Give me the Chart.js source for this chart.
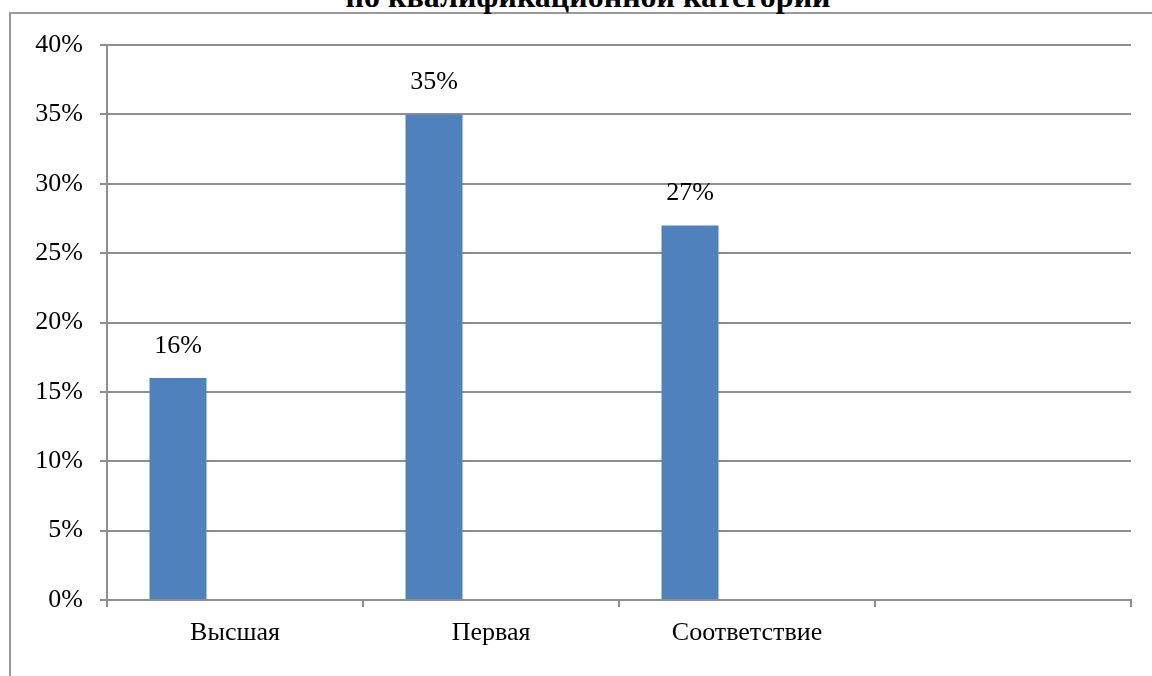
<!DOCTYPE html>
<html>
<head>
<meta charset="utf-8">
<script src="https://cdn.jsdelivr.net/npm/chart.js@4"></script>
<style>
  html, body { margin: 0; padding: 0; background: #fff; overflow: hidden; }
  #wrap { position: relative; width: 1152px; height: 676px; overflow: hidden; }
  #frame { position: absolute; left: 9px; top: 12px; width: 1200px; height: 720px;
           border-left: 2px solid #9a9a9a; border-top: 2px solid #9a9a9a; }
  #title { position: absolute; left: 0; width: 1176px; top: -20px; text-align: center;
           font: bold 32px "Liberation Serif", serif; line-height: 32px; color: #000; }
  #chart { position: absolute; left: 0; top: 0; }
</style>
</head>
<body>
<div id="wrap">
  <div id="frame"></div>
  <div id="title">по квалификационной категории</div>
  <canvas id="chart" width="1152" height="676"></canvas>
</div>
<script>
document.addEventListener("DOMContentLoaded", function () {

    // categories (last slot is empty, as in the original)
    const categories = ["Высшая", "Первая", "Соответствие", ""];
    // share of teachers by category, %
    const shareValues = [16, 35, 27, null];
    // two empty series which only reserve space in each group
    const emptyA = [null, null, null, null];
    const emptyB = [null, null, null, null];
    const yTicks = [0, 5, 10, 15, 20, 25, 30, 35, 40];

    const gray = "#8f8f8f";
    const serif = "'Liberation Serif', 'Times New Roman', serif";

    // value labels over the bars
    const barLabels = {
        id: "barLabels",
        afterDatasetsDraw(chart) {
            const ctx = chart.ctx;
            const meta = chart.getDatasetMeta(0);
            ctx.save();
            ctx.font = "26px " + serif;
            ctx.fillStyle = "#000";
            ctx.textAlign = "center";
            ctx.textBaseline = "alphabetic";
            meta.data.forEach(function (bar, i) {
                const v = shareValues[i];
                if (v == null) return;
                ctx.fillText(v + "%", bar.x, bar.y - 25);
            });
            ctx.restore();
        }
    };

    new Chart(document.getElementById("chart").getContext("2d"), {
        type: "bar",
        data: {
            labels: categories,
            datasets: [
                { label: "Доля", data: shareValues, backgroundColor: "#4f81bd" },
                { label: "", data: emptyA, backgroundColor: "#c0504d" },
                { label: "", data: emptyB, backgroundColor: "#9bbb59" }
            ]
        },
        options: {
            responsive: false,
            animation: false,
            devicePixelRatio: 1,
            layout: { padding: { top: 45, right: 21, bottom: 0, left: 0 } },
            datasets: { bar: { categoryPercentage: 0.668, barPercentage: 1.0 } },
            plugins: {
                legend: { display: false },
                tooltip: { enabled: false }
            },
            scales: {
                x: {
                    offset: true,
                    grid: { offset: true, drawOnChartArea: false, drawTicks: true, tickLength: 7, color: gray, lineWidth: 2 },
                    border: { display: true, color: gray, width: 2 },
                    ticks: { color: "#000", font: { family: serif, size: 26 }, padding: 11, maxRotation: 0 },
                    afterFit: function (s) { s.height = 76; }
                },
                y: {
                    min: 0,
                    max: 40,
                    afterBuildTicks: function (s) { s.ticks = yTicks.map(v => ({ value: v })); },
                    grid: { color: gray, lineWidth: 2, drawTicks: true, tickLength: 7 },
                    border: { display: true, color: gray, width: 2 },
                    ticks: {
                        color: "#000",
                        font: { family: serif, size: 26 },
                        padding: 17,
                        callback: v => v + "%"
                    },
                    afterFit: function (s) { s.width = 107; }
                }
            }
        },
        plugins: [barLabels]
    });
});
</script>
</body>
</html>
